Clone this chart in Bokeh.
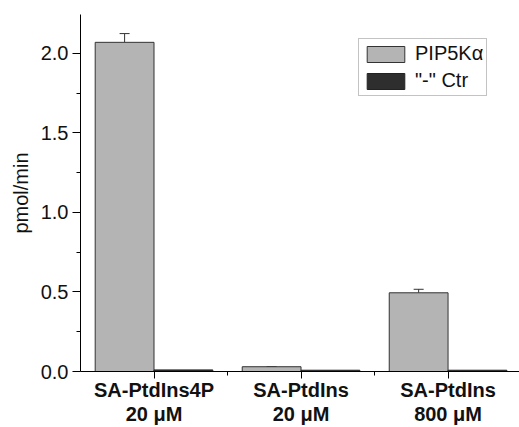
from bokeh.plotting import figure
from bokeh.models import FixedTicker, Whisker, ColumnDataSource, Legend, LegendItem, TeeHead, NumeralTickFormatter, Range1d
from bokeh.transform import dodge
from bokeh.embed import file_html
from bokeh.resources import INLINE

categories = ["SA-PtdIns4P\n20 \u03bcM", "SA-PtdIns\n20 \u03bcM", "SA-PtdIns\n800 \u03bcM"]
positions = [1, 2, 3]
pip5k = [2.07, 0.03, 0.495]
pip5k_err = [0.055, 0.0, 0.022]
ctrl = [0.01, 0.008, 0.008]
series_names = ["PIP5K\u03b1", "\"-\" Ctr"]

src = ColumnDataSource(dict(
    x=positions, pip5k=pip5k, ctrl=ctrl,
    upper=[v + e for v, e in zip(pip5k, pip5k_err)],
))

p = figure(width=519, height=427, output_backend="svg", toolbar_location=None,
           x_range=Range1d(0.5, 3.486), y_range=Range1d(0, 2.245),
           min_border_left=80, min_border_right=0, min_border_top=14, min_border_bottom=55)
p.outline_line_color = None
p.xgrid.visible = False
p.ygrid.visible = False

r1 = p.vbar(x=dodge("x", -0.2), top="pip5k", width=0.4, source=src,
            fill_color="#b4b4b4", line_color="#333333", line_width=1)
r2 = p.vbar(x=dodge("x", 0.2), top="ctrl", width=0.4, source=src,
            fill_color="#2e2e2e", line_color="#222222", line_width=1)

w = Whisker(base=dodge("x", -0.2), lower="pip5k", upper="upper", source=src,
            line_color="#333333", line_width=1,
            upper_head=TeeHead(size=10, line_color="#333333", line_width=1),
            lower_head=None)
p.add_layout(w)

font = "Liberation Sans"
xa = p.xaxis[0]
xa.ticker = FixedTicker(ticks=positions, minor_ticks=[1.5, 2.5])
xa.major_label_overrides = {pos: lab for pos, lab in zip(positions, categories)}
xa.major_label_text_font = font
xa.major_label_text_font_style = "bold"
xa.major_label_text_font_size = "20px"
xa.major_label_text_color = "#111111"
xa.major_label_text_line_height = 1.1
xa.major_tick_out = 7
xa.major_tick_in = 0
xa.minor_tick_out = 4
xa.minor_tick_in = 0
xa.axis_line_color = "black"
xa.major_tick_line_color = "black"
xa.minor_tick_line_color = "black"
xa.major_label_standoff = 0

ya = p.yaxis[0]
ya.ticker = FixedTicker(ticks=[0, 0.5, 1.0, 1.5, 2.0], minor_ticks=[0.25, 0.75, 1.25, 1.75])
ya.formatter = NumeralTickFormatter(format="0.0")
ya.major_label_text_font = font
ya.major_label_text_font_size = "20px"
ya.major_label_text_color = "#111111"
ya.major_tick_out = 8
ya.major_tick_in = 0
ya.minor_tick_out = 4
ya.minor_tick_in = 0
ya.major_label_standoff = 4
ya.axis_label = "pmol/min"
ya.axis_label_text_font = font
ya.axis_label_text_font_style = "normal"
ya.axis_label_text_font_size = "20px"
ya.axis_label_text_color = "#111111"
ya.axis_label_standoff = 6

legend = Legend(items=[LegendItem(label=series_names[0], renderers=[r1]),
                       LegendItem(label=series_names[1], renderers=[r2])],
                location=(278, 275), glyph_width=47, glyph_height=20,
                label_text_font=font, label_text_font_size="20px", label_text_color="#111111",
                border_line_color="#888888", border_line_width=1,
                padding=3, spacing=4, margin=0, label_standoff=6,
                label_height=20)
p.add_layout(legend)

open("out.html", "w").write(file_html(p, INLINE))
